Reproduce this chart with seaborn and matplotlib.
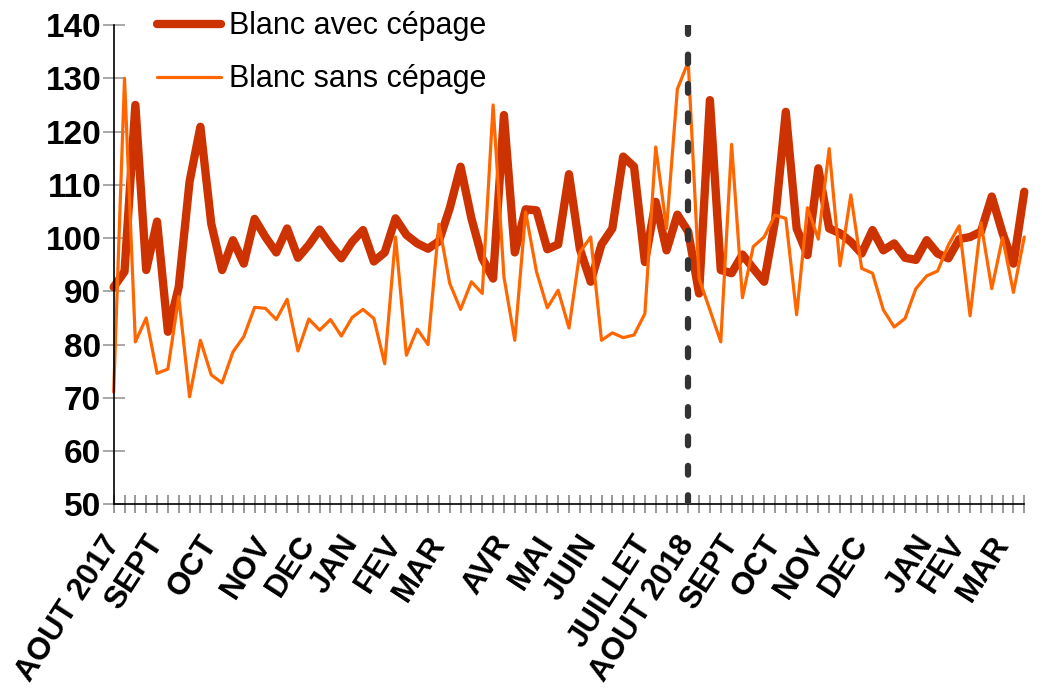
import numpy as np
import pandas as pd
import matplotlib
matplotlib.use("Agg")
import matplotlib.pyplot as plt
import matplotlib.transforms as mtransforms
import seaborn as sns

# weekly index values, Aug 2017 -> Mar 2019
avec_cepage = [
    90.8, 93.7, 125.0, 94.0, 103.1, 82.4, 90.8, 110.6, 120.9, 102.7,
    94.0, 99.6, 95.2, 103.6, 100.2, 97.3, 101.8, 96.3, 98.7, 101.6,
    98.7, 96.2, 99.3, 101.5, 95.6, 97.3, 103.7, 100.6, 99.0, 98.0,
    99.4, 105.6, 113.4, 103.7, 96.2, 92.4, 123.1, 97.3, 105.4, 105.2,
    97.9, 98.8, 112.0, 98.0, 91.8, 98.8, 101.8, 115.3, 113.4, 95.5,
    106.8, 97.7, 104.4, 101.2, 89.6, 125.9, 94.0, 93.4, 96.9, 94.3,
    91.8, 103.1, 123.7, 101.8, 96.8, 113.1, 101.8, 100.9, 99.3, 97.1,
    101.5, 97.7, 99.0, 96.3, 95.9, 99.6, 97.1, 96.2, 99.8, 100.2,
    101.2, 107.8, 100.9, 95.2, 108.7,
]
sans_cepage = [
    71.1, 130.0, 80.5, 85.0, 74.6, 75.4, 89.0, 70.2, 80.8, 74.3,
    72.8, 78.6, 81.5, 87.0, 86.8, 84.7, 88.5, 78.8, 84.8, 82.7,
    84.7, 81.6, 85.1, 86.6, 84.9, 76.4, 100.2, 78.0, 82.9, 80.0,
    102.6, 91.5, 86.6, 91.8, 89.6, 125.0, 92.7, 80.8, 104.9, 93.7,
    86.9, 90.2, 83.1, 97.3, 100.2, 80.8, 82.2, 81.3, 81.8, 85.8,
    117.1, 101.8, 128.0, 133.1, 92.4, 86.5, 80.5, 117.6, 88.8, 98.4,
    100.2, 104.3, 103.7, 85.6, 105.7, 99.8, 116.8, 94.8, 108.1, 94.3,
    93.4, 86.5, 83.3, 84.9, 90.5, 92.9, 93.8, 98.7, 102.3, 85.4,
    102.9, 90.5, 100.1, 89.8, 100.2,
]
month_labels = ["AOUT 2017", "SEPT", "OCT", "NOV", "DEC", "JAN", "FEV", "MAR",
                "AVR", "MAI", "JUIN", "JUILLET", "AOUT 2018", "SEPT", "OCT",
                "NOV", "DEC", "JAN", "FEV", "MAR"]
month_weeks = [0, 4, 9, 14, 18, 22, 26, 30, 36, 40, 44, 49, 53, 57, 61,
               65, 69, 75, 78, 82]
marker_week = 53

weeks = np.arange(len(avec_cepage))
df = pd.DataFrame({"semaine": weeks, "avec": avec_cepage, "sans": sans_cepage})

sns.set_style("white")
plt.rcParams["font.family"] = ["Liberation Sans", "DejaVu Sans"]
plt.rcParams["text.color"] = "black"
plt.rcParams["xtick.color"] = "black"
plt.rcParams["ytick.color"] = "black"

fig = plt.figure(figsize=(10.42, 6.94), dpi=100)
ax = fig.add_axes([0.1091, 0.2733, 0.8739, 0.6906])

sns.lineplot(data=df, x="semaine", y="avec", color="#CC3300", linewidth=6.0,
             label="Blanc avec cépage", ax=ax, clip_on=False,
             solid_capstyle="round", solid_joinstyle="round")
sns.lineplot(data=df, x="semaine", y="sans", color="#FF6600", linewidth=2.3,
             label="Blanc sans cépage", ax=ax, clip_on=False,
             solid_joinstyle="round")

ax.axvline(marker_week, ymin=0, ymax=1.0, color="#333333", linewidth=4.5,
           linestyle=(0, (1.4, 3.3)), dash_capstyle="round", zorder=5)

ax.set_xlim(0, len(weeks) - 1)
ax.set_ylim(50, 140)
ax.set_yticks(range(50, 141, 10))
ax.set_xticks(weeks)
labels = [""] * len(weeks)
for w, lab in zip(month_weeks, month_labels):
    labels[w] = lab
ax.set_xticklabels(labels, rotation=57, ha="right", va="center",
                   rotation_mode="anchor", fontsize=22.5, fontweight="bold")
shift = mtransforms.ScaledTranslation(8 / 100, 0, fig.dpi_scale_trans)
for t in ax.get_xticklabels():
    t.set_transform(t.get_transform() + shift)
ax.tick_params(axis="y", left=True, labelsize=24, direction="inout", length=16,
               width=1.2, color="#999999", labelcolor="black", pad=1)
ax.tick_params(axis="x", bottom=True, direction="inout", length=13, width=1.2,
               color="#888888", labelcolor="black", pad=18)
for t in ax.get_yticklabels():
    t.set_fontweight("bold")

ax.set_xlabel("")
ax.set_ylabel("")
for side in ["top", "right"]:
    ax.spines[side].set_visible(False)
for side in ["left", "bottom"]:
    ax.spines[side].set_color("black")
    ax.spines[side].set_linewidth(1.2)

ax.legend(loc="upper left", bbox_to_anchor=(0.148, 0.988), bbox_transform=fig.transFigure,
          frameon=False, fontsize=22, handlelength=2.1, handletextpad=0.25,
          labelspacing=0.75, borderpad=0.1, borderaxespad=0)

fig.savefig("out.png", dpi=100)
